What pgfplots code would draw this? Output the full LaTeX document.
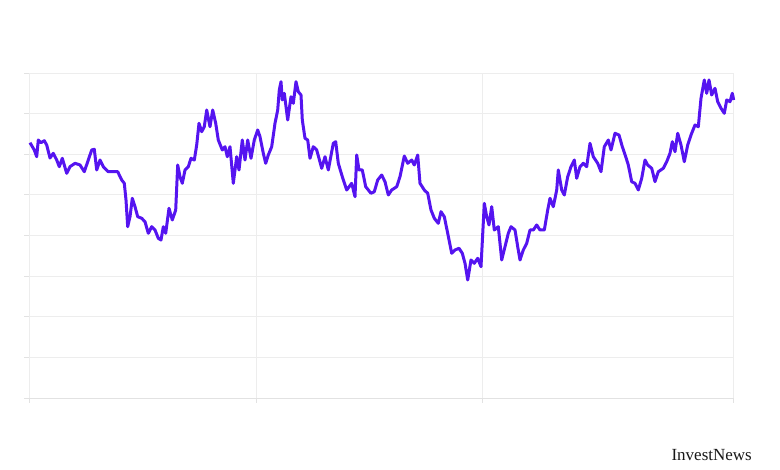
\documentclass[border=0pt]{standalone}
\usepackage{pgfplots}
\pgfplotsset{compat=1.18}
\usepackage{fontspec}
\setmainfont{Liberation Serif}
\definecolor{lineviolet}{HTML}{5514F0}
\definecolor{gridgray}{HTML}{EDEDED}
\definecolor{axisgray}{HTML}{E2E2E2}
\begin{document}
\begin{tikzpicture}
\path[use as bounding box] (0,0) rectangle (780bp,470bp);
\begin{axis}[
  at={(29bp,72bp)}, anchor=south west,
  scale only axis, width=704bp, height=325bp,
  xmin=29, xmax=733, ymin=0, ymax=325,
  xtick={29,256.5,482.7,733},
  ytick={0,40.6,81.3,121.9,162.5,203.1,243.8,284.4,325},
  xticklabels={}, yticklabels={},
  xtick pos=bottom, ytick pos=left,
  grid=major, major grid style={gridgray, line width=0.8bp},
  tick align=outside, major tick length=5bp,
  tick style={axisgray, line width=0.8bp},
  axis line style={draw=none},
  clip=false,
]
\draw[axisgray, line width=0.9bp] (axis cs:29,0) -- (axis cs:733,0);
\addplot[lineviolet, line width=3bp, line join=round, mark=none] coordinates {
(30,255.3)(34.3,248)(36.7,241.3)(38.3,258)(41,255.3)(44.3,257.3)(46.7,253)(50,240)
(53.3,244.7)(56.7,238)(59.3,231.3)(62.3,239.7)(66.7,224.7)(70,231.3)(75,234.7)(80,233)
(84.3,226.3)(88.3,238)(91.7,248)(94.3,248.7)(96.7,228)(100,238)(103.3,231.3)(108.3,226.3)
(113.3,226.3)(117.7,226.3)(121.7,218)(124.3,214.7)(126,198)(127.7,171.3)(130,181.3)
(132.3,199.7)(135,191.3)(137.7,181.3)(141.7,179.7)(145,176.3)(148.3,164.7)
(151.7,171.3)(155,168)(158.3,159.7)(161,158)(163.3,171.3)(165.7,164.7)(169,189.7)
(172.3,178)(175.7,188)(177.7,233)(180,221.3)(182.3,214.7)(185,228)(188.3,231.3)
(191,239.7)(194.3,238)(196.7,253)(199,274.7)(201.7,266.3)(204.3,271.3)(206.7,288)
(210,271.3)(212.7,288)(215.7,274.7)(218.3,258)(222.3,248)(225,251.3)(227.3,241.3)
(230,251.3)(233.3,214.7)(236.7,241.3)(239,228)(242.3,258)(245,238)(247.7,258)
(251,239.7)(254.3,258)(257.7,268)(260,261.3)(263.3,244.7)(265.7,234.7)
(268.3,243)(271.7,251.3)(275,274.7)(277.7,288)(279.3,308)(281,316.3)(282.3,298)
(284.3,304.7)(287.7,278)(291,301.3)(293.3,294.7)(296,316.3)(298.3,306.3)(301,303)
(302.3,278)(305,259.7)(307.7,258)(310,239.7)(313.3,251.3)(316.7,248)(319,239.7)
(321.7,229.7)(325,241.3)(328.3,228)(333.3,254.7)(335.7,256.3)(338.3,234.7)(342.3,221.3)
(346.7,208)(351.7,214.7)(355,201.3)(356.7,243)(359,228)(362.3,228)(365.7,211.3)
(371,204.7)(374.3,206.3)(377.7,218)(381.7,223)(385,216.3)(388.3,203)
(391.7,208)(396.7,211.3)(400,221.3)(404.3,242)(407.7,234.7)(411.7,238)(414.3,233)
(417.7,243)(420,214.7)(424.3,208)(427.7,204.7)(431,188)(434.3,179.7)(438.3,174.7)
(441,186.3)(444.3,181.3)(447.7,164.7)(451.7,144.7)(455,148)(459,149.7)(462.3,144.7)
(465,134.7)(467.7,118)(471,138)(474.3,134.7)(477.7,139.7)(481,131.3)(484.3,194.7)
(486.7,181.3)(489,173)(491.7,191.3)(494.3,168)(498.3,171.3)(501.7,138)(505,151.3)
(508.3,164.7)(511,171.3)(515,168)(517.7,151.3)(520,138)(523.3,148)(526.7,154.7)
(530,168)(533.3,168)(536.7,173)(540,168)(544.3,168)(547.7,188)(550,199.7)(553.3,191.3)
(556.7,208)(558.3,228)(561.7,208)(564.3,203)(567.7,221.3)(571,231.3)(574.3,238)
(576.7,219.7)(580,231.3)(583.3,234.7)(586.7,231.3)(590,254.7)(593.3,241.3)(597.7,234.7)
(601,226.3)(604.3,251.3)(608.3,258)(611,248)(615,264.7)(619,263)(622.3,251.3)(625.7,241.3)
(628.3,233)(631.7,216.3)(635,214.7)(638.3,208)(641.7,219.7)(645,238)(647.7,233)
(651.7,229.7)(655,216.3)(658.3,226.3)(663.3,229.7)(666.7,236.3)(670,244.7)(672.3,256.3)
(675,246.3)(677.7,264.7)(681,253)(684.3,236.3)(687.7,253)(691,263)(695,273)(698.3,271.3)
(701,299.7)(704.3,318)(706.7,304.7)(709,318)(711.7,303)(715,309.7)(717.7,296.3)
(721,289.7)(724.3,284.7)(726.7,298)(730,296.3)(732.3,304.7)(733.7,298)
};
\end{axis}
\node[anchor=base east, text=black!90, font=\fontsize{17bp}{19bp}\selectfont, inner sep=0pt]
  at (752bp,10bp) {InvestNews};
\end{tikzpicture}
\end{document}
